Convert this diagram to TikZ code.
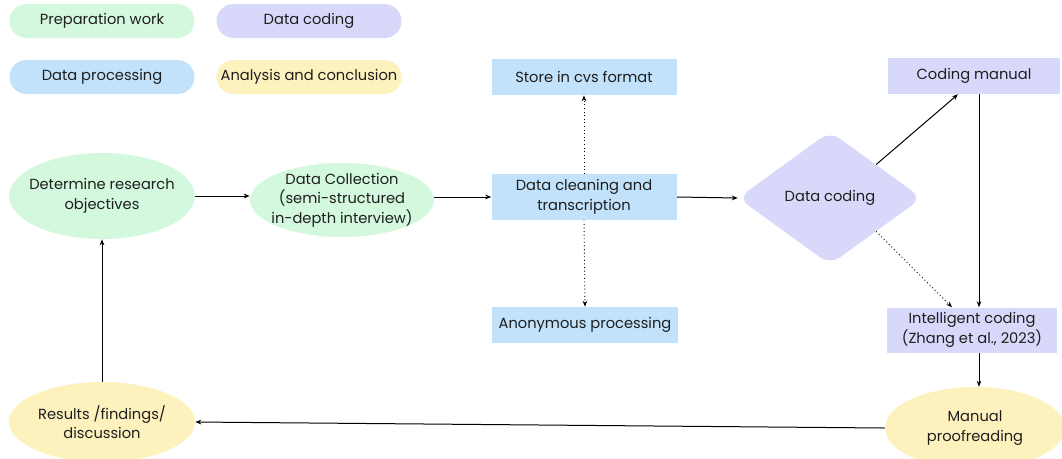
\documentclass[tikz,border=0pt]{standalone}
\usepackage{fontspec}
\setmainfont{Poppins}
\usetikzlibrary{shapes.geometric,arrows.meta,calc}
\definecolor{cgreen}{HTML}{D3F8DD}
\definecolor{clav}{HTML}{D8D9FA}
\definecolor{cblue}{HTML}{C1E2FA}
\definecolor{cyel}{HTML}{FDF1BE}
\definecolor{ctext}{HTML}{1E1E1E}
\begin{document}
\begin{tikzpicture}[x=0.75pt,y=-0.75pt,
  every node/.style={text=ctext,font=\fontsize{11}{14.6}\selectfont,align=center,inner sep=2pt},
  pill/.style={rectangle,rounded corners=12.75pt,minimum width=138.75pt,minimum height=25.5pt},
  box/.style={rectangle,minimum width=#1*0.75pt},
  oval/.style={ellipse,inner sep=-10pt},
  conn/.style={line width=0.75pt,-{Stealth[length=4.5pt,width=3.5pt]}},
  dconn/.style={line width=0.7pt,dotted,-{Stealth[length=4.5pt,width=3.5pt]}}
]
\useasboundingbox (0,0) rectangle (1062,458);
% legend
\node[pill,fill=cgreen] (l1) at (102,21) {Preparation work};
\node[pill,fill=clav] (l2) at (309,21) {Data coding};
\node[pill,fill=cblue] (l3) at (102,77) {Data processing};
\node[pill,fill=cyel] (l4) at (309,77) {Analysis and conclusion};
% main nodes
\node[oval,fill=cgreen,minimum width=139.5pt,minimum height=64.5pt] (det) at (102,196) {Determine research\\objectives};
\node[oval,fill=cgreen,minimum width=138pt,minimum height=55.5pt] (coll) at (342,200) {Data Collection\\(semi-structured\\in-depth interview)};
\node[box=185,fill=cblue,minimum height=34.5pt] (clean) at (584,197) {Data cleaning and\\transcription};
\node[box=185,fill=cblue,minimum height=27pt] (store) at (584,77) {Store in cvs format};
\node[box=186,fill=cblue,minimum height=27pt] (anon) at (585,325) {Anonymous processing};
\node[diamond,fill=clav,rounded corners=9pt,minimum width=138pt,minimum height=100pt,inner sep=0pt] (dc) at (830,198) {Data coding};
\node[box=172,fill=clav,minimum height=27pt] (cm) at (974,76) {Coding manual};
\node[box=170,fill=clav,minimum height=33.75pt] (ic) at (972,330) {Intelligent coding\\(Zhang et al., 2023)};
\node[oval,fill=cyel,minimum width=135pt,minimum height=61.5pt] (mp) at (975,428) {Manual\\proofreading};
\node[oval,fill=cyel,minimum width=139.5pt,minimum height=60pt] (res) at (102,422) {Results /findings/\\discussion};
% connectors
\draw[conn] (det.east) -- (det.east -| coll.west);
\draw[conn] (coll.east |- clean.west) -- (clean.west);
\draw[dconn] (clean.north) -- (store.south);
\draw[dconn] (clean.south) -- (anon.north);
\draw[conn] (clean.east) -- (dc.west);
\coordinate (cmA) at ([xshift=-12pt]cm.south);
\draw[conn] (dc.north east) -- (cmA);
\coordinate (cmB) at ([xshift=3.75pt]cm.south);
\draw[conn] (cmB) -- (cmB |- ic.north);
\coordinate (icA) at ([xshift=-15pt]ic.north);
\draw[dconn] (dc.south east) -- (icA);
\coordinate (icB) at ([xshift=5.25pt]ic.south);
\draw[conn] (icB) -- (icB |- mp.north);
\draw[conn] (mp.west) -- (res.east);
\draw[conn] (res.north) -- (res.north |- det.south);
\end{tikzpicture}
\end{document}
